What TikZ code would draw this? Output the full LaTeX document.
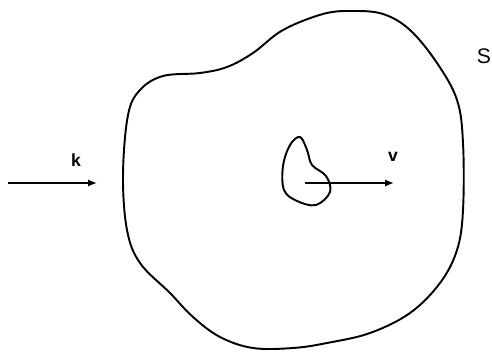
\documentclass[tikz,border=0pt]{standalone}
\usepackage{fontspec}
\setmainfont{Liberation Sans}
\usepackage{tikz}
\usetikzlibrary{arrows.meta,positioning,calc}
\tikzset{
  contorno/.style={draw=black,line width=1.1pt,line join=round},
  flecha/.style={-{Latex[length=5pt,width=4pt]},line width=0.9pt},
  etiq/.style={font=\normalsize\bfseries,inner sep=1pt},
}
\begin{document}
\begin{tikzpicture}[x=0.02cm,y=-0.02cm]
        \useasboundingbox (0,0) rectangle (492,354);
        % superficie exterior
        \draw[contorno] plot[smooth cycle,tension=0.6] coordinates {
          (123,175) (128,115) (140,90) (163,76) (200,73) (227,67) (253,53)
          (283,30) (323,14) (352,11) (383,14) (410,30) (437,63) (457,100)
          (463,143) (463,210) (457,250) (440,283) (410,313) (370,333)
          (327,343) (293,348) (253,348) (220,337) (193,317) (170,293)
          (140,263) (127,230)};
        % cuerpo interior
        \draw[contorno] plot[smooth cycle,tension=0.6] coordinates {
          (300,137) (307,150) (312,165) (326,176) (330,192) (316,205)
          (297,201) (284,190) (283,166) (290,145)};
        \coordinate (k0) at (8,183);
        \coordinate (k1) at (97,183);
        \coordinate (v0) at (305,183);
        \coordinate (v1) at (394,183);
        \draw[flecha] (k0) -- (k1);
        \draw[flecha] (v0) -- (v1);
        \node[etiq] (k) at (76,160) {k};
        \node[etiq] (v) at (393,157) {v};
        \node[font=\large,inner sep=1pt] (S) at (484,56) {S};
      \end{tikzpicture}
\end{document}
